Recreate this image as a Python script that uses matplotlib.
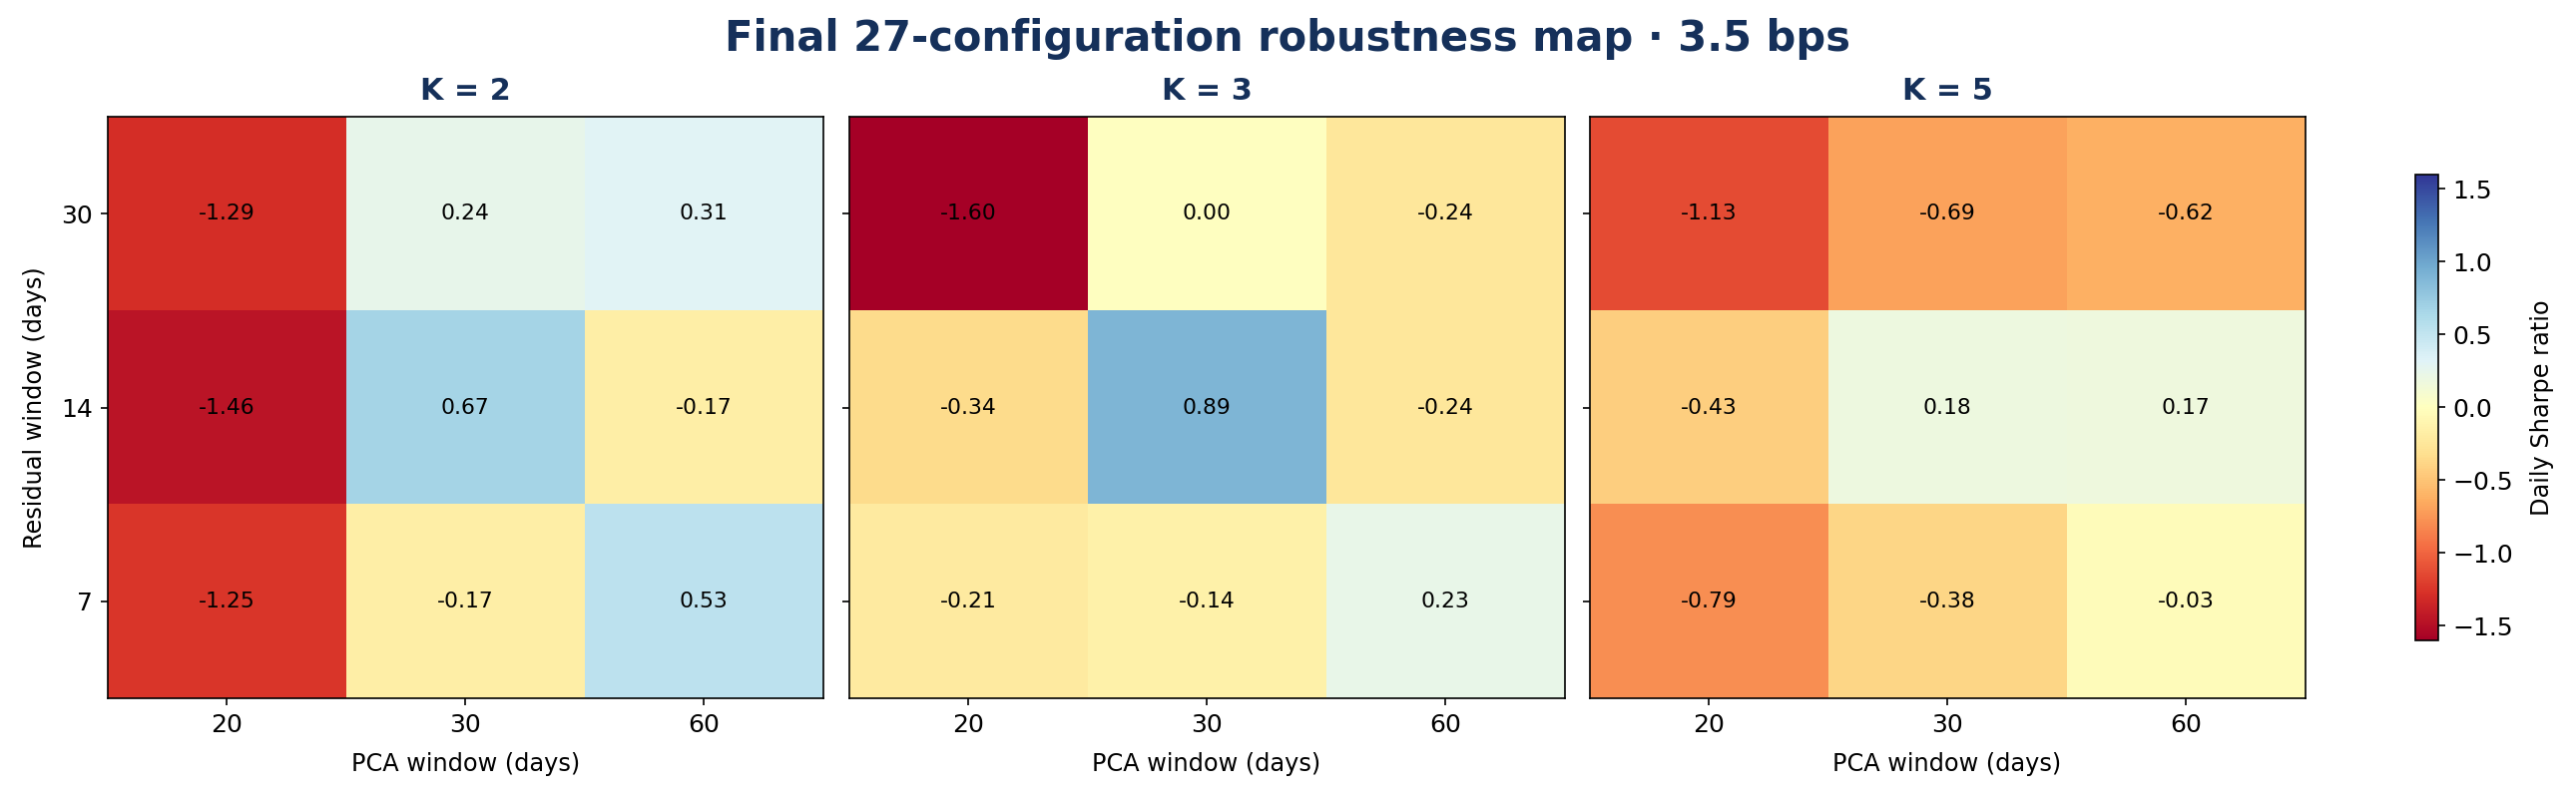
import numpy as np
import matplotlib
matplotlib.use("Agg")
import matplotlib.pyplot as plt

pca_windows = [20, 30, 60]
resid_windows = [30, 14, 7]  # top to bottom
k_values = [2, 3, 5]

sharpe_k2 = [[-1.29, 0.24, 0.31],
             [-1.46, 0.67, -0.17],
             [-1.25, -0.17, 0.53]]
sharpe_k3 = [[-1.60, 0.00, -0.24],
             [-0.34, 0.89, -0.24],
             [-0.21, -0.14, 0.23]]
sharpe_k5 = [[-1.13, -0.69, -0.62],
             [-0.43, 0.18, 0.17],
             [-0.79, -0.38, -0.03]]

panels = [sharpe_k2, sharpe_k3, sharpe_k5]
vlim = 1.6
title_color = "#15305A"

W, H, DPI = 2581, 801, 150
fig = plt.figure(figsize=(W / DPI, H / DPI), dpi=DPI)

ax_lefts = [107.7, 850.5, 1592.5]
ax_w = 717.0
ax_top, ax_bot = 117.0, 700.0

im = None
for i, (k, data) in enumerate(zip(k_values, panels)):
    ax = fig.add_axes([ax_lefts[i] / W, 1 - ax_bot / H, ax_w / W, (ax_bot - ax_top) / H])
    arr = np.array(data)
    im = ax.imshow(arr, cmap="RdYlBu", vmin=-vlim, vmax=vlim, aspect="auto")
    for r in range(arr.shape[0]):
        for c in range(arr.shape[1]):
            ax.text(c, r, f"{arr[r, c]:.2f}", ha="center", va="center",
                    fontsize=10.5, color="black")
    ax.set_xticks(range(len(pca_windows)))
    ax.set_xticklabels([str(p) for p in pca_windows], fontsize=12)
    ax.set_yticks(range(len(resid_windows)))
    if i == 0:
        ax.set_yticklabels([str(r) for r in resid_windows], fontsize=12)
        ax.set_ylabel("Residual window (days)", fontsize=11.5, labelpad=7)
    else:
        ax.set_yticklabels([])
    ax.set_xlabel("PCA window (days)", fontsize=11.5, labelpad=7.5)
    ax.set_title(f"K = {k}", fontsize=14.5, fontweight="bold", color=title_color, pad=8)

cax = fig.add_axes([2420 / W, 1 - 642 / H, 23 / W, (642 - 174.5) / H])
cb = fig.colorbar(im, cax=cax)
cb.set_ticks([-1.5, -1.0, -0.5, 0.0, 0.5, 1.0, 1.5])
cb.ax.tick_params(labelsize=12)
cb.set_label("Daily Sharpe ratio", fontsize=11.5, labelpad=8)

fig.suptitle("Final 27-configuration robustness map · 3.5 bps", fontsize=20,
             fontweight="bold", color=title_color, x=0.5, y=1 - 39 / H, va="center")

fig.savefig("out.png", dpi=DPI, facecolor="white")
